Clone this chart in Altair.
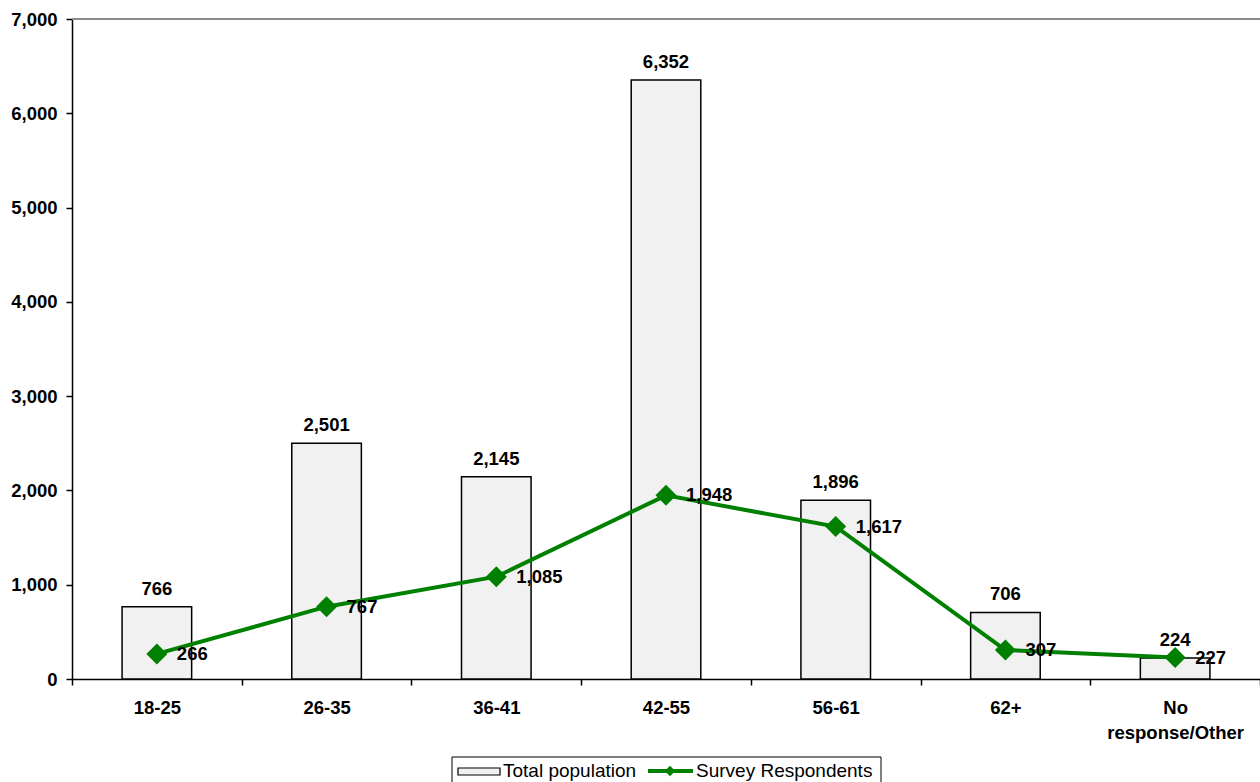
import altair as alt
import pandas as pd

# Age groups and counts
categories = ["18-25", "26-35", "36-41", "42-55", "56-61", "62+", "No response/Other"]
total_population = [766, 2501, 2145, 6352, 1896, 706, 224]
survey_respondents = [266, 767, 1085, 1948, 1617, 307, 227]
series_names = ["Total population", "Survey Respondents"]
y_ticks = [0, 1000, 2000, 3000, 4000, 5000, 6000, 7000]

GREEN = "#008000"
BAR_FILL = "#f1f1f1"
FONT = "Liberation Sans"
FS = 18.5
LEGEND_FS = 19

df = pd.DataFrame({
    "group": categories,
    "total": total_population,
    "respondents": survey_respondents,
})
one_row = pd.DataFrame({"n": [0]})

y_scale = alt.Scale(domain=[y_ticks[0], y_ticks[-1]], nice=False)
y_axis = alt.Axis(
    title=None, values=y_ticks, format=",.0f", grid=False,
    labelFont=FONT, labelFontSize=FS, labelFontWeight="bold", labelColor="black",
    labelPadding=9, tickSize=6, tickColor="black", tickWidth=1.5,
    domainColor="black", domainWidth=1.5,
)
x_enc = alt.X(
    "group:N", sort=categories,
    scale=alt.Scale(paddingInner=0, paddingOuter=0),
    axis=alt.Axis(
        title=None, labelAngle=0, labelFont=FONT, labelFontSize=FS,
        labelFontWeight="bold", labelColor="black", labelPadding=13,
        labelLineHeight=25,
        labelExpr="datum.value == 'No response/Other' ? ['No', 'response/Other'] : datum.label",
        tickBand="extent", tickSize=6, tickColor="black", tickWidth=1.5,
        domainColor="black", domainWidth=1.5,
    ),
)

base = alt.Chart(df)

bars = base.mark_bar(
    width=alt.RelativeBandSize(0.41), fill=BAR_FILL, stroke="black", strokeWidth=1.5
).encode(x=x_enc, y=alt.Y("total:Q", scale=y_scale, axis=y_axis))

bar_labels = base.mark_text(
    baseline="alphabetic", dy=-12, font=FONT, fontSize=FS, fontWeight="bold", color="black"
).encode(x=x_enc, y=alt.Y("total:Q", scale=y_scale, axis=y_axis),
         text=alt.Text("total:Q", format=","))

line = base.mark_line(color=GREEN, strokeWidth=4).encode(
    x=x_enc, y=alt.Y("respondents:Q", scale=y_scale, axis=y_axis))

points = base.mark_point(
    shape="diamond", filled=True, size=441, color=GREEN, opacity=1
).encode(x=x_enc, y=alt.Y("respondents:Q", scale=y_scale, axis=y_axis))

line_labels = base.mark_text(
    align="left", baseline="middle", dx=20, font=FONT, fontSize=FS,
    fontWeight="bold", color="black"
).encode(x=x_enc, y=alt.Y("respondents:Q", scale=y_scale, axis=y_axis),
         text=alt.Text("respondents:Q", format=","))

# Grey border line along the top of the value range
top_rule = alt.Chart(one_row).mark_rule(color="#8c8c8c", strokeWidth=2).encode(
    y=alt.datum(y_ticks[-1], scale=y_scale, axis=y_axis))

# Legend drawn below the plot area
legend_box = alt.Chart(one_row).mark_rect(
    fill="white", stroke="black", strokeWidth=1
).encode(x=alt.value(380), x2=alt.value(809), y=alt.value(738), y2=alt.value(800))

legend_bar = alt.Chart(one_row).mark_rect(
    fill=BAR_FILL, stroke="black", strokeWidth=1.2
).encode(x=alt.value(386), x2=alt.value(428), y=alt.value(749), y2=alt.value(756))

legend_text1 = alt.Chart(one_row).mark_text(
    text=series_names[0], align="left", baseline="alphabetic",
    font=FONT, fontSize=LEGEND_FS, color="black"
).encode(x=alt.value(431), y=alt.value(758))

legend_line = alt.Chart(one_row).mark_rule(color=GREEN, strokeWidth=4).encode(
    x=alt.value(576), x2=alt.value(621), y=alt.value(752))

legend_marker = alt.Chart(one_row).mark_point(
    shape="diamond", filled=True, size=110, color=GREEN, opacity=1
).encode(x=alt.value(598), y=alt.value(752))

legend_text2 = alt.Chart(one_row).mark_text(
    text=series_names[1], align="left", baseline="alphabetic",
    font=FONT, fontSize=LEGEND_FS, color="black"
).encode(x=alt.value(624), y=alt.value(758))

chart = alt.layer(
    bars, top_rule, bar_labels, line, points, line_labels,
    legend_box, legend_bar, legend_text1, legend_line, legend_marker, legend_text2,
).properties(
    width=1188, height=660,
    padding={"left": 72, "top": 19, "right": 0, "bottom": 103},
    autosize=alt.AutoSizeParams(type="none"),
    background="white",
).configure_view(stroke=None)

chart.save("out.html", embed_options={"renderer": "svg", "actions": False})
